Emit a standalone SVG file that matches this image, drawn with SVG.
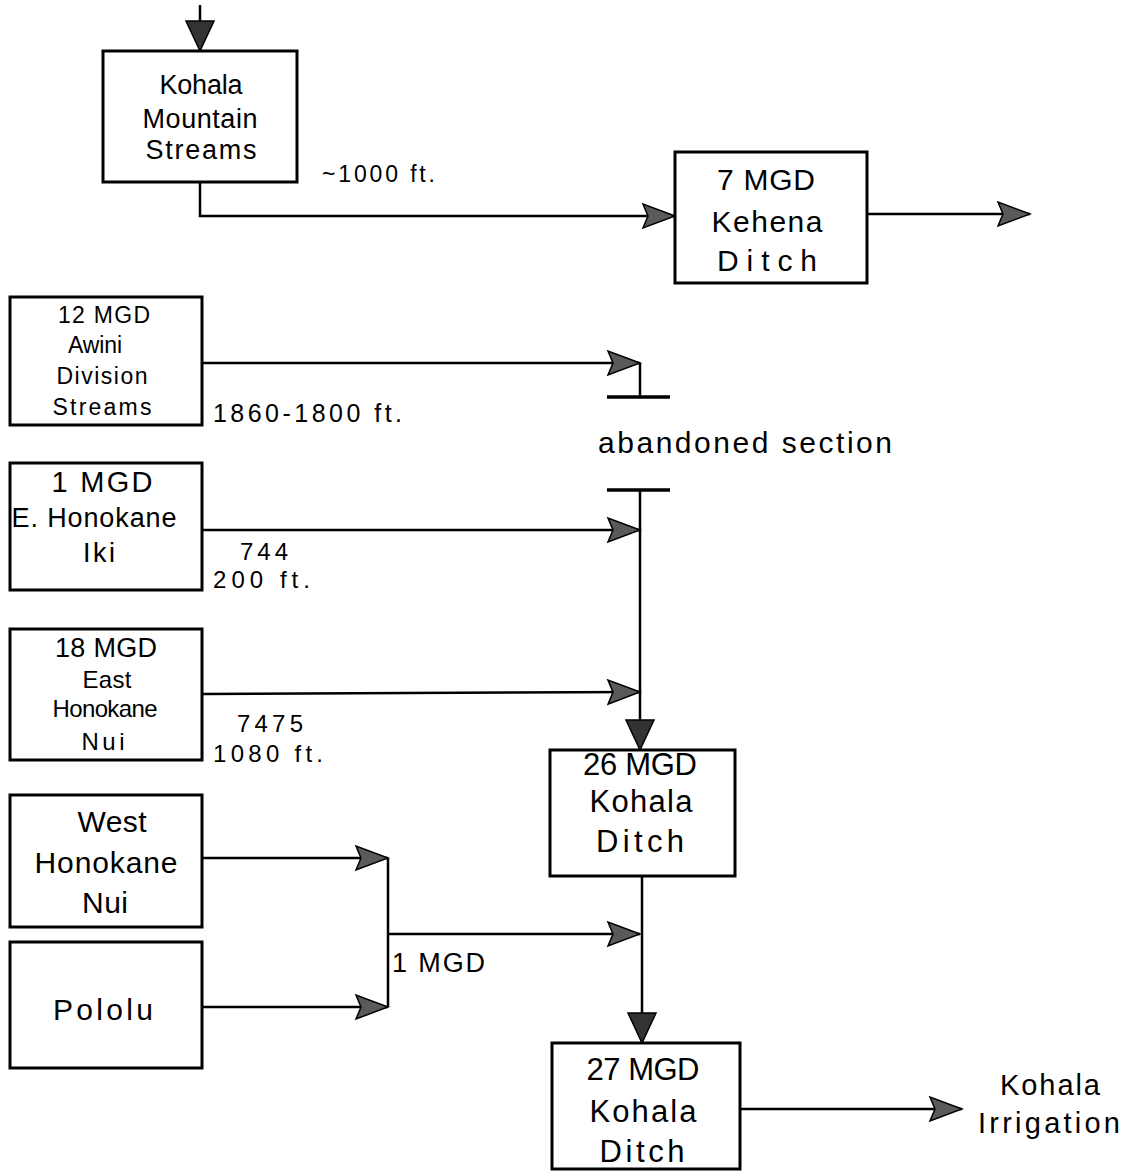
<svg xmlns="http://www.w3.org/2000/svg" width="1129" height="1172" viewBox="0 0 1129 1172">
<style>
text{font-family:"Liberation Sans",Arial,sans-serif;fill:#000;text-anchor:middle}
.box{fill:#fff;stroke:#000;stroke-width:3}
.ln{fill:none;stroke:#000;stroke-width:2.5}
.bar{fill:none;stroke:#000;stroke-width:3.5}
.lbl{text-anchor:start}
</style>
<defs>
<marker id="ah" markerUnits="userSpaceOnUse" markerWidth="36" markerHeight="30" viewBox="-34 -15 36 30" refX="0" refY="0" orient="auto">
<path d="M0,0 L-32,-12 L-27,0 L-32,12 Z" fill="#5a5a5a" stroke="#000" stroke-width="1.5"/>
</marker>
<marker id="ahd" markerUnits="userSpaceOnUse" markerWidth="36" markerHeight="32" viewBox="-34 -16 36 32" refX="0" refY="0" orient="auto">
<path d="M0,0 L-30,-14 L-30,14 Z" fill="#333" stroke="#000" stroke-width="1.5"/>
</marker>
</defs>

<g id="connectors">
<line class="ln" x1="200" y1="5" x2="200" y2="51" marker-end="url(#ahd)"/>
<polyline class="ln" points="200,182 200,216 675,216" marker-end="url(#ah)"/>
<line class="ln" x1="867" y1="214" x2="1030" y2="214" marker-end="url(#ah)"/>
<line class="ln" x1="202" y1="363" x2="640" y2="363" marker-end="url(#ah)"/>
<line class="ln" x1="640" y1="363" x2="640" y2="397"/>
<line class="bar" x1="607" y1="397" x2="670" y2="397"/>
<line class="bar" x1="607" y1="490" x2="670" y2="490"/>
<line class="ln" x1="640" y1="490" x2="640" y2="750" marker-end="url(#ahd)"/>
<line class="ln" x1="202" y1="530" x2="640" y2="530" marker-end="url(#ah)"/>
<line class="ln" x1="202" y1="694" x2="640" y2="692" marker-end="url(#ah)"/>
<line class="ln" x1="202" y1="858" x2="388" y2="858" marker-end="url(#ah)"/>
<line class="ln" x1="202" y1="1007" x2="388" y2="1007" marker-end="url(#ah)"/>
<line class="ln" x1="388" y1="858" x2="388" y2="1007"/>
<line class="ln" x1="388" y1="934" x2="640" y2="934" marker-end="url(#ah)"/>
<line class="ln" x1="642" y1="876" x2="642" y2="1043" marker-end="url(#ahd)"/>
<line class="ln" x1="740" y1="1109" x2="962" y2="1109" marker-end="url(#ah)"/>
</g>

<g id="kohala-mountain-streams">
<rect class="box" x="103" y="51" width="194" height="131"/>
<text x="201" y="94" font-size="27" textLength="83">Kohala</text>
<text x="200" y="128" font-size="27" textLength="115">Mountain</text>
<text x="201" y="159" font-size="27" textLength="111">Streams</text>
</g>
<text class="lbl" x="322" y="182" font-size="23" textLength="113">~1000  ft.</text>

<g id="kehena-ditch">
<rect class="box" x="675" y="152" width="192" height="131"/>
<text x="766" y="190" font-size="30" textLength="98">7 MGD</text>
<text x="767" y="232" font-size="30" textLength="111">Kehena</text>
<text x="767" y="271" font-size="30" textLength="100">Ditch</text>
</g>

<g id="awini">
<rect class="box" x="10" y="297" width="192" height="128"/>
<text x="104" y="323" font-size="23" textLength="92">12 MGD</text>
<text x="95" y="353" font-size="23" textLength="54">Awini</text>
<text x="102" y="384" font-size="23" textLength="91">Division</text>
<text x="102" y="415" font-size="23" textLength="99">Streams</text>
</g>
<text class="lbl" x="213" y="422" font-size="25" textLength="189">1860-1800  ft.</text>

<g id="abandoned">
<text class="lbl" x="598" y="453" font-size="30" textLength="294">abandoned  section</text>
</g>

<g id="e-honokane-iki">
<rect class="box" x="10" y="463" width="192" height="127"/>
<text x="102" y="492" font-size="29" textLength="101">1 MGD</text>
<text x="94" y="527" font-size="27" textLength="165">E. Honokane</text>
<text x="99" y="562" font-size="27" textLength="32">Iki</text>
</g>
<text class="lbl" x="240" y="560" font-size="24" textLength="48">744</text>
<text class="lbl" x="213" y="588" font-size="24" textLength="97">200  ft.</text>

<g id="east-honokane-nui">
<rect class="box" x="10" y="629" width="192" height="131"/>
<text x="106" y="657" font-size="27" textLength="102">18 MGD</text>
<text x="107" y="688" font-size="24" textLength="49">East</text>
<text x="105" y="717" font-size="24" textLength="105">Honokane</text>
<text x="103" y="750" font-size="24" textLength="43">Nui</text>
</g>
<text class="lbl" x="237" y="732" font-size="24" textLength="66">7475</text>
<text class="lbl" x="213" y="762" font-size="24" textLength="110">1080  ft.</text>

<g id="west-honokane-nui">
<rect class="box" x="10" y="795" width="192" height="132"/>
<text x="112" y="832" font-size="30" textLength="69">West</text>
<text x="106" y="873" font-size="30" textLength="143">Honokane</text>
<text x="105" y="913" font-size="30" textLength="46">Nui</text>
</g>

<g id="pololu">
<rect class="box" x="10" y="942" width="192" height="126"/>
<text x="103" y="1020" font-size="30" textLength="100">Pololu</text>
</g>
<text class="lbl" x="392" y="972" font-size="27" textLength="93">1 MGD</text>

<g id="kohala-ditch-26">
<rect class="box" x="550" y="750" width="185" height="126"/>
<text x="640" y="775" font-size="31" textLength="114">26 MGD</text>
<text x="641" y="812" font-size="31" textLength="103">Kohala</text>
<text x="640" y="852" font-size="31" textLength="88">Ditch</text>
</g>

<g id="kohala-ditch-27">
<rect class="box" x="552" y="1043" width="188" height="126"/>
<text x="643" y="1080" font-size="31" textLength="113">27 MGD</text>
<text x="643" y="1122" font-size="31" textLength="107">Kohala</text>
<text x="642" y="1162" font-size="31" textLength="85">Ditch</text>
</g>

<g id="kohala-irrigation">
<text x="1050" y="1095" font-size="29" textLength="100">Kohala</text>
<text x="1049" y="1133" font-size="29" textLength="142">Irrigation</text>
</g>
</svg>
